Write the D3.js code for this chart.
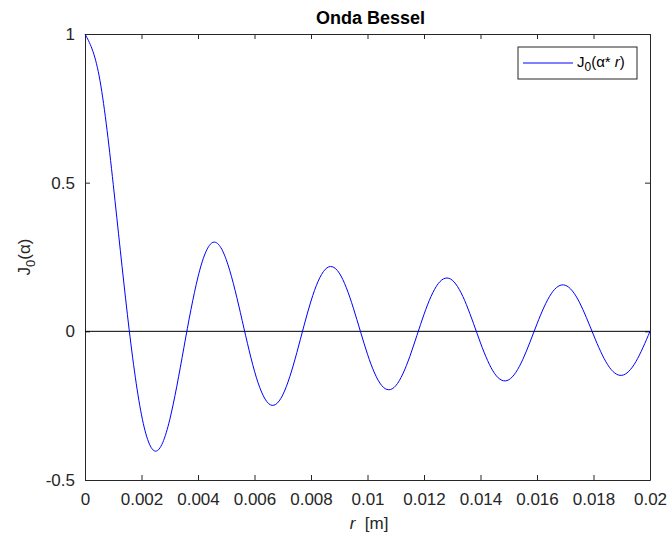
<!DOCTYPE html>
<html>
<head>
<meta charset="utf-8">
<script src="https://cdn.jsdelivr.net/npm/d3@7"></script>
<style>
  body { margin: 0; background: #fff; }
  svg { font-family: "Liberation Sans", Arial, sans-serif; }
</style>
</head>
<body>
<svg id="chart" width="670" height="535"></svg>
<script>
// valores (paso uniforme de 0.0005)
const rValues = [0, 0.0005, 0.001, 0.0015, 0.002, 0.0025, 0.003, 0.0035, 0.004, 0.0045,
  0.005, 0.0055, 0.006, 0.0065, 0.007, 0.0075, 0.008, 0.0085, 0.009, 0.0095,
  0.01, 0.0105, 0.011, 0.0115, 0.012, 0.0125, 0.013, 0.0135, 0.014, 0.0145,
  0.015, 0.0155, 0.016, 0.0165, 0.017, 0.0175, 0.018, 0.0185, 0.019, 0.0195, 0.02];
const jValues = [1, 0.859, 0.494, 0.057, -0.281, -0.403, -0.297, -0.055, 0.183, 0.298,
  0.241, 0.063, -0.134, -0.243, -0.214, -0.071, 0.102, 0.208, 0.196, 0.078,
  -0.077, -0.182, -0.183, -0.084, 0.057, 0.160, 0.172, 0.090, -0.039, -0.142,
  -0.163, -0.094, 0.025, 0.126, 0.155, 0.098, -0.012, -0.112, -0.148, -0.102, 0];
const zeroLineR = [0, 0.02];
const zeroLineJ = [0, 0];

const xTicks = [0, 0.002, 0.004, 0.006, 0.008, 0.01, 0.012, 0.014, 0.016, 0.018, 0.02];
const xTickLabels = ['0', '0.002', '0.004', '0.006', '0.008', '0.01', '0.012', '0.014', '0.016', '0.018', '0.02'];
const yTicks = [-0.5, 0, 0.5, 1];
const yTickLabels = ['-0.5', '0', '0.5', '1'];

const width = 670, height = 535;
const margin = {top: 34, right: 20, bottom: 55, left: 85};
const axisColor = '#262626';

const svg = d3.select('#chart');
svg.append('rect').attr('width', width).attr('height', height).attr('fill', '#fff');

const x = d3.scaleLinear().domain([0, 0.02]).range([margin.left, width - margin.right]);
const y = d3.scaleLinear().domain([-0.5, 1]).range([height - margin.bottom, margin.top]);

// ejes (ticks hacia dentro, estilo MATLAB)
function styleAxis(g) {
  g.select('.domain').attr('stroke', axisColor);
  g.selectAll('.tick line').attr('stroke', axisColor);
  g.selectAll('.tick text').attr('fill', axisColor).attr('font-size', 17);
}

svg.append('g')
  .attr('transform', `translate(0,${height - margin.bottom})`)
  .call(d3.axisBottom(x).tickValues(xTicks).tickFormat((d, i) => xTickLabels[i])
    .tickSizeInner(-5).tickSizeOuter(0).tickPadding(13))
  .call(styleAxis);

svg.append('g')
  .attr('transform', `translate(0,${margin.top})`)
  .call(d3.axisTop(x).tickValues(xTicks).tickFormat('')
    .tickSizeInner(-5).tickSizeOuter(0))
  .call(styleAxis);

svg.append('g')
  .attr('transform', `translate(${margin.left},0)`)
  .call(d3.axisLeft(y).tickValues(yTicks).tickFormat((d, i) => yTickLabels[i])
    .tickSizeInner(-5).tickSizeOuter(0).tickPadding(10))
  .call(styleAxis);

svg.append('g')
  .attr('transform', `translate(${width - margin.right},0)`)
  .call(d3.axisRight(y).tickValues(yTicks).tickFormat('')
    .tickSizeInner(-5).tickSizeOuter(0))
  .call(styleAxis);

// linea del cero
svg.append('path')
  .datum(zeroLineR.map((r, i) => [r, zeroLineJ[i]]))
  .attr('fill', 'none')
  .attr('stroke', '#000')
  .attr('stroke-width', 1)
  .attr('d', d3.line().x(d => x(d[0])).y(d => y(d[1])));

// curva de Bessel
svg.append('path')
  .datum(rValues.map((r, i) => [r, jValues[i]]))
  .attr('fill', 'none')
  .attr('stroke', '#0000ff')
  .attr('stroke-width', 1)
  .attr('d', d3.line().curve(d3.curveNatural).x(d => x(d[0])).y(d => y(d[1])));

// titulo
svg.append('text')
  .attr('x', (margin.left + width - margin.right) / 2 + 3)
  .attr('y', 24)
  .attr('text-anchor', 'middle')
  .attr('font-size', 18)
  .attr('font-weight', 'bold')
  .attr('fill', '#000')
  .text('Onda Bessel');

// etiqueta eje x
const xl = svg.append('text')
  .attr('x', 369)
  .attr('y', 529)
  .attr('text-anchor', 'middle')
  .attr('font-size', 17)
  .attr('fill', axisColor);
xl.append('tspan').attr('font-style', 'italic').text('r');
xl.append('tspan').attr('xml:space', 'preserve').text('  [m]');

// etiqueta eje y
const yl = svg.append('text')
  .attr('transform', `translate(30,${(margin.top + height - margin.bottom) / 2}) rotate(-90)`)
  .attr('text-anchor', 'middle')
  .attr('font-size', 17)
  .attr('fill', axisColor);
yl.append('tspan').text('J');
yl.append('tspan').attr('dy', 5).attr('font-size', 13).text('0');
yl.append('tspan').attr('dy', -5).text('(α)');

// leyenda
const lg = svg.append('g');
lg.append('rect')
  .attr('x', 518).attr('y', 47).attr('width', 119).attr('height', 32)
  .attr('fill', '#fff').attr('stroke', axisColor).attr('stroke-width', 1);
lg.append('line')
  .attr('x1', 523).attr('x2', 573).attr('y1', 63).attr('y2', 63)
  .attr('stroke', '#0000ff').attr('stroke-width', 1);
const lt = lg.append('text')
  .attr('x', 577).attr('y', 67)
  .attr('font-size', 15)
  .attr('fill', '#000');
lt.append('tspan').text('J');
lt.append('tspan').attr('dy', 4).attr('font-size', 12).text('0');
lt.append('tspan').attr('dy', -4).text('(α* ');
lt.append('tspan').attr('font-style', 'italic').text('r');
lt.append('tspan').text(')');
</script>
</body>
</html>
